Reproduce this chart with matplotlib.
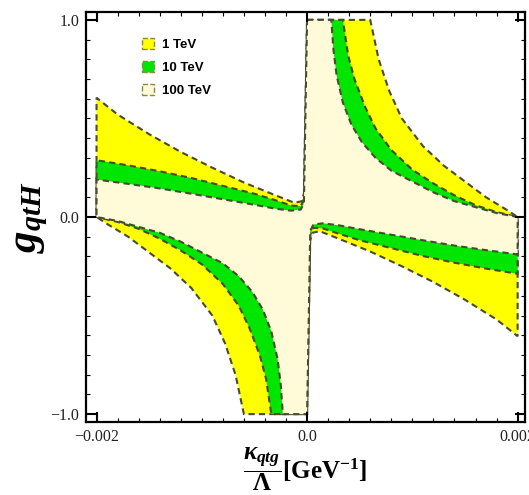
import matplotlib
matplotlib.use("Agg")
import matplotlib.pyplot as plt
from matplotlib.patches import Patch

# boundary of each allowed region (x > 0 half only;
# the other half is the same curve turned through 180 degrees)

# 1 TeV (yellow)
u1_x = [0.0006, 0.00068, 0.00078, 0.0009, 0.0011, 0.0013, 0.0015, 0.0017, 0.0019, 0.002]
u1_y = [1.0, 0.8, 0.64, 0.5, 0.36, 0.26, 0.18, 0.1, 0.035, 0.0]
l1_x = [0.002, 0.0018, 0.0015, 0.0012, 0.0009, 0.0006, 0.0003, 0.00012, 0.00005, 0.00003]
l1_y = [-0.605, -0.52, -0.42, -0.33, -0.25, -0.175, -0.11, -0.072, -0.08, -0.12]

# 10 TeV (green)
u10_x = [0.00034, 0.00039, 0.00045, 0.00055, 0.00065, 0.0008, 0.001, 0.0012, 0.0014, 0.0016, 0.0018, 0.002]
u10_y = [1.0, 0.82, 0.7, 0.56, 0.45, 0.34, 0.24, 0.17, 0.11, 0.06, 0.025, 0.0]
l10_x = [0.002, 0.0017, 0.0014, 0.0011, 0.0008, 0.0005, 0.0003, 0.00015, 0.00006, 0.00003]
l10_y = [-0.288, -0.262, -0.232, -0.198, -0.158, -0.118, -0.085, -0.058, -0.055, -0.09]

# 100 TeV (light yellow)
u100_x = [0.00023, 0.00025, 0.00028, 0.00034, 0.00042, 0.00052, 0.00065, 0.0008, 0.001, 0.0012, 0.0014, 0.0016, 0.0018, 0.002]
u100_y = [1.0, 0.85, 0.72, 0.58, 0.47, 0.38, 0.3, 0.235, 0.18, 0.125, 0.08, 0.05, 0.02, 0.0]
l100_x = [0.002, 0.0017, 0.0014, 0.0011, 0.0008, 0.0005, 0.0003, 0.00015, 0.00006, 0.00003]
l100_y = [-0.19, -0.168, -0.145, -0.118, -0.09, -0.062, -0.042, -0.032, -0.038, -0.07]

labels = ["1 TeV", "10 TeV", "100 TeV"]
colors = ["#ffff00", "#00e600", "#fffbd8"]

plt.rcParams["mathtext.fontset"] = "custom"
plt.rcParams["mathtext.rm"] = "Liberation Serif:bold"
plt.rcParams["mathtext.it"] = "Liberation Serif:italic:bold"
plt.rcParams["mathtext.bf"] = "Liberation Serif:bold"


def region(ux, uy, lx, ly):
    # one half: top edge at x=0, upper curve, right edge, lower curve, back down x=0
    hx = [0.0] + ux + lx + [0.0]
    hy = [1.0] + uy + ly + [-1.0]
    # add the half turned through 180 degrees
    return hx + [-v for v in hx], hy + [-v for v in hy]


fig = plt.figure(figsize=(5.29, 4.95), dpi=100)
ax = fig.add_axes([86 / 529, 73 / 495, 439 / 529, 410 / 495])

curves = [(u1_x, u1_y, l1_x, l1_y), (u10_x, u10_y, l10_x, l10_y), (u100_x, u100_y, l100_x, l100_y)]
for (ux, uy, lx, ly), c in zip(curves, colors):
    px, py = region(ux, uy, lx, ly)
    ax.fill(px, py, facecolor=c, edgecolor="#4a4a30", linestyle=(0, (3, 2)), linewidth=1.5)

ax.set_xlim(-0.0021, 0.00207)
ax.set_ylim(-1.04, 1.04)

ax.set_xticks([-0.002, 0.0, 0.002])
ax.set_xticklabels(["\u22120.002", "0.0", "0.002"])
ax.set_yticks([-1.0, 0.0, 1.0])
ax.set_yticklabels(["\u22121.0", "0.0", "1.0"])
ax.set_xticks([i * 0.0002 for i in range(-10, 11)], minor=True)
ax.set_yticks([i * 0.1 for i in range(-10, 11)], minor=True)
ax.tick_params(which="both", direction="in", top=True, right=True, labelsize=11.5)
ax.tick_params(which="major", length=7, width=1.5, pad=5)
ax.tick_params(which="minor", length=3, width=0.8)
for lab in ax.get_xticklabels() + ax.get_yticklabels():
    lab.set_family("Liberation Serif")
    lab.set_color("#222222")
for s in ax.spines.values():
    s.set_linewidth(1.6)

ax.set_ylabel(r"$g_{qtH}$", fontsize=31, labelpad=0)
ax.set_xlabel(r"$\dfrac{\kappa_{qtg}}{\Lambda}[\mathrm{GeV}^{-1}]$", fontsize=18, labelpad=0)

handles = [Patch(facecolor=c, edgecolor="#8a8a40", linestyle="--") for c in colors]
ax.legend(handles, labels, loc="upper left", bbox_to_anchor=(0.10, 0.965), frameon=False,
          handlelength=0.9, handleheight=0.9, labelspacing=0.75, handletextpad=0.6,
          prop={"family": "Liberation Sans", "weight": "bold", "size": 9.5})

fig.savefig("out.png", dpi=100)
